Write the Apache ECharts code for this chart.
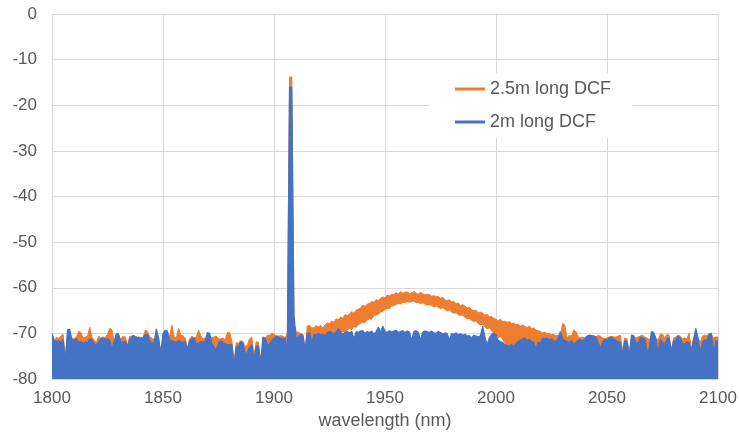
<!DOCTYPE html>
<html>
<head>
<meta charset="utf-8">
<script src="https://cdn.jsdelivr.net/npm/echarts@6/dist/echarts.min.js"></script>
<style>
  html, body { margin: 0; padding: 0; background: #fff; overflow: hidden; }
  #chart { width: 739px; height: 433px; }
</style>
</head>
<body>
<div id="chart"></div>
<script>
// x: wavelength in nm, one point per nm
var wavelength = [];
for (var w = 1800; w <= 2100; w++) wavelength.push(w);

// 2m long DCF (blue), dBm
var dcf2m = [
  -70.0, -71.5, -71.8, -71.6, -72.0, -71.4, -76.0, -69.2, -69.1, -71.5,
  -71.5, -71.2, -72.0, -71.8, -72.2, -71.9, -72.0, -71.2, -71.4, -72.3,
  -72.5, -71.8, -71.2, -71.0, -71.3, -71.2, -71.6, -73.3, -71.8, -70.0,
  -70.2, -71.8, -72.0, -71.6, -72.9, -71.4, -70.6, -70.5, -71.0, -70.8,
  -71.2, -70.9, -70.3, -70.2, -71.5, -72.3, -72.0, -69.0, -71.0, -74.5,
  -70.0, -69.3, -69.5, -71.5, -71.6, -71.8, -72.0, -71.5, -71.8, -72.0,
  -71.7, -73.5, -71.6, -71.2, -71.0, -72.3, -72.2, -71.8, -72.0, -71.6,
  -69.8, -70.0, -72.2, -73.0, -73.7, -72.1, -71.6, -71.9, -72.2, -72.5,
  -72.5, -72.4, -77.0, -73.0, -72.8, -71.8, -72.0, -74.5, -74.2, -73.0,
  -72.5, -75.5, -72.8, -72.8, -76.5, -70.8, -71.0, -72.5, -72.3, -71.6,
  -71.0, -70.6, -70.8, -71.0, -71.2, -71.0, -74.0, -16.0, -16.0, -66.0,
  -71.0, -70.8, -70.3, -70.4, -73.5, -70.0, -69.8, -72.0, -70.2, -70.4,
  -70.0, -70.4, -70.2, -70.6, -69.8, -69.6, -69.8, -70.2, -69.7, -69.0,
  -69.6, -70.2, -69.8, -69.6, -69.9, -69.5, -71.2, -69.6, -69.8, -69.5,
  -69.4, -70.0, -69.6, -69.8, -69.5, -70.2, -69.6, -68.6, -69.8, -68.4,
  -69.6, -69.8, -69.4, -69.7, -69.5, -69.3, -69.8, -69.6, -69.4, -69.8,
  -69.5, -69.7, -71.5, -69.6, -69.4, -69.8, -71.4, -69.7, -69.5, -69.6,
  -69.8, -69.5, -69.9, -70.0, -69.6, -69.8, -70.2, -69.9, -70.0, -71.5,
  -70.0, -70.2, -69.9, -70.3, -70.1, -70.4, -70.2, -70.6, -70.5, -71.0,
  -70.4, -70.6, -70.8, -70.5, -68.4, -70.8, -72.5, -71.0, -70.2, -70.0,
  -70.3, -71.5, -71.8, -72.0, -72.5, -72.6, -72.8, -72.4, -72.9, -72.2,
  -71.8, -71.5, -71.2, -71.0, -71.6, -71.3, -71.8, -72.0, -73.3, -71.9,
  -72.2, -71.0, -71.2, -71.0, -71.4, -71.2, -71.6, -71.8, -71.0, -69.6,
  -71.2, -71.5, -71.8, -72.0, -71.6, -72.3, -72.0, -71.5, -71.3, -71.6,
  -71.2, -70.6, -70.4, -70.5, -70.6, -70.8, -72.0, -73.2, -71.8, -71.4,
  -71.5, -71.0, -70.8, -71.2, -71.6, -71.8, -72.0, -74.5, -71.6, -71.8,
  -75.0, -70.4, -70.5, -72.0, -72.2, -70.8, -71.0, -71.2, -73.7, -73.5,
  -69.6, -69.8, -71.0, -74.5, -71.2, -72.0, -72.3, -71.2, -71.0, -74.0,
  -71.6, -71.4, -70.6, -71.0, -72.2, -72.4, -71.8, -72.0, -74.0, -71.5,
  -68.9, -71.0, -74.2, -72.0, -71.4, -71.6, -70.2, -70.0, -74.0, -71.8,
  -71.5
];

// 2.5m long DCF (orange), upper edge of the trace
var dcf25mTop = [
  -71.0, -72.0, -70.8, -71.2, -70.6, -70.2, -75.2, -70.0, -71.5, -71.0,
  -71.2, -70.8, -69.6, -69.8, -71.0, -70.8, -70.6, -68.7, -70.8, -71.5,
  -72.0, -70.6, -71.0, -70.8, -70.9, -70.2, -68.9, -69.2, -72.0, -71.0,
  -70.8, -71.2, -70.6, -70.8, -72.5, -70.6, -71.0, -70.8, -70.6, -71.2,
  -70.8, -71.0, -69.3, -69.5, -70.8, -71.0, -71.4, -70.5, -71.0, -74.0,
  -70.8, -70.5, -71.0, -70.6, -68.2, -70.8, -71.0, -68.9, -70.4, -70.5,
  -71.0, -73.3, -71.2, -70.6, -71.0, -70.8, -69.3, -70.5, -71.2, -71.0,
  -71.0, -70.8, -71.0, -70.8, -70.6, -71.2, -71.2, -71.0, -71.4, -69.8,
  -69.8, -71.6, -76.2, -72.0, -72.2, -71.6, -71.8, -73.0, -72.5, -71.2,
  -70.8, -75.0, -71.8, -72.0, -76.0, -71.5, -71.2, -70.4, -70.4, -70.0,
  -70.2, -70.5, -70.6, -70.5, -70.6, -71.0, -70.0, -13.8, -13.8, -68.0,
  -69.6, -69.8, -70.0, -70.2, -73.5, -68.4, -68.2, -68.9, -68.7, -68.3,
  -68.6, -68.2, -68.9, -68.1, -67.7, -67.9, -67.3, -67.6, -66.8, -67.0,
  -66.4, -66.7, -65.9, -66.1, -65.8, -65.2, -65.6, -64.9, -64.7, -64.4,
  -63.8, -64.1, -63.6, -63.4, -63.0, -63.2, -62.6, -62.8, -62.3, -62.0,
  -62.2, -61.6, -61.8, -61.4, -61.5, -61.1, -61.4, -60.8, -61.2, -61.0,
  -60.9, -61.3, -61.1, -60.8, -61.2, -61.4, -61.0, -61.3, -61.6, -61.4,
  -61.5, -61.9, -61.7, -62.0, -61.9, -62.3, -62.1, -62.6, -62.9, -62.6,
  -63.1, -63.0, -63.5, -63.3, -63.9, -63.7, -64.0, -64.4, -64.3, -64.8,
  -65.0, -64.9, -65.5, -65.3, -65.6, -66.0, -65.8, -66.4, -66.3, -66.7,
  -66.9, -67.2, -66.9, -67.5, -67.3, -67.6, -67.4, -67.9, -67.7, -68.1,
  -68.0, -68.4, -68.1, -68.5, -68.7, -68.4, -69.0, -68.8, -69.3, -69.4,
  -69.6, -69.9, -69.7, -70.1, -70.0, -70.3, -70.2, -70.5, -70.4, -70.6,
  -67.8, -68.2, -71.0, -70.4, -70.6, -69.3, -69.6, -70.8, -71.0, -70.8,
  -71.0, -70.6, -70.4, -70.6, -70.5, -70.8, -70.4, -70.6, -71.0, -71.2,
  -71.0, -70.8, -70.6, -70.8, -70.8, -70.6, -70.4, -73.8, -71.0, -71.2,
  -74.2, -71.2, -70.8, -71.0, -70.8, -70.6, -70.4, -70.8, -71.0, -71.4,
  -70.6, -70.8, -71.2, -71.4, -70.2, -70.2, -71.0, -70.2, -70.4, -73.8,
  -71.0, -70.8, -70.4, -70.6, -71.2, -71.0, -71.2, -70.0, -73.5, -70.8,
  -70.6, -71.0, -72.0, -70.6, -70.4, -70.5, -70.0, -70.2, -71.0, -70.8,
  -70.8
];

// lower edge of the orange trace where it stands clear of the noise (1926-2004 nm)
var dcf25mLowStart = 1926;
var dcf25mLow = [
  -70.5, -70.3, -70.6, -70.2,
  -70.1, -69.7, -69.9, -69.4, -69.0, -69.3, -68.6, -68.8, -68.2, -67.9,
  -67.6, -67.8, -67.1, -66.9, -67.0, -66.3, -66.1, -65.9, -65.4, -65.3,
  -64.9, -64.6, -64.7, -64.1, -64.0, -63.8, -63.5, -63.7, -63.3, -63.4,
  -63.1, -63.3, -63.2, -63.0, -63.4, -63.3, -63.6, -63.4, -63.7, -63.9,
  -63.8, -64.0, -64.3, -64.1, -64.4, -64.7, -64.5, -64.9, -65.2, -65.0,
  -65.4, -65.7, -65.6, -66.0, -66.2, -66.1, -66.6, -66.9, -66.8, -67.3,
  -67.5, -67.4, -68.0, -68.2, -68.1, -68.7, -69.1, -68.9, -69.6, -70.0,
  -70.3, -71.0, -70.8, -71.5, -72.2
];

var yMin = -80;

// rows for the orange band: [wavelength, top, bottom]
var bandData = [], blueData = [];
for (var i = 0; i < wavelength.length; i++) {
  var k = wavelength[i] - dcf25mLowStart;
  var low = (k >= 0 && k < dcf25mLow.length) ? dcf25mLow[k] : yMin;
  bandData.push([wavelength[i], dcf25mTop[i], low]);
  blueData.push([wavelength[i], dcf2m[i]]);
}

// whole orange trace as one filled outline, placed through the axes
function renderBand(params, api) {
  if (params.dataIndex !== 0) return;
  var top = [], bottom = [];
  for (var j = 0; j < bandData.length; j++) {
    top.push(api.coord([bandData[j][0], bandData[j][1]]));
    bottom.push(api.coord([bandData[j][0], bandData[j][2]]));
  }
  var outline = top.concat(bottom.reverse());
  return {
    type: 'group',
    children: [{
      type: 'polygon',
      shape: { points: outline },
      style: { fill: '#ED7D31' }
    }, {
      type: 'polyline',
      shape: { points: top },
      style: { stroke: '#ED7D31', lineWidth: 1, fill: null }
    }]
  };
}

var labelFont = 'Liberation Sans, Arial, Helvetica, sans-serif';
var chart = echarts.init(document.getElementById('chart'));
var option = {
  animation: false,
  backgroundColor: '#fff',
  grid: {
    left: 52,
    right: 21,
    top: 14,
    bottom: 54,
    outerBoundsMode: 'none'
  },
  legend: {
    data: ['2.5m long DCF', '2m long DCF'],
    orient: 'vertical',
    left: 429,
    top: 73,
    padding: [6, 21, 6, 26],
    backgroundColor: '#fff',
    icon: 'rect',
    itemWidth: 30,
    itemHeight: 3,
    itemGap: 13,
    textStyle: {
      color: '#595959',
      fontSize: 18,
      lineHeight: 20,
      fontFamily: labelFont
    }
  },
  xAxis: {
    type: 'value',
    min: 1800,
    max: 2100,
    interval: 50,
    name: 'wavelength (nm)',
    nameLocation: 'middle',
    nameGap: 33,
    nameTextStyle: {
      color: '#595959',
      fontSize: 18,
      fontFamily: labelFont
    },
    axisLine: {
      lineStyle: { color: '#d9d9d9' }
    },
    axisTick: { show: false },
    axisLabel: {
      margin: 11,
      color: '#595959',
      fontSize: 17,
      fontFamily: labelFont,
      formatter: function (v) { return String(v); }
    },
    splitLine: {
      show: true,
      lineStyle: { color: '#d9d9d9', width: 1 }
    }
  },
  yAxis: {
    type: 'value',
    min: -80,
    max: 0,
    interval: 10,
    axisLine: { show: false },
    axisTick: { show: false },
    axisLabel: {
      margin: 15,
      color: '#595959',
      fontSize: 17,
      fontFamily: labelFont
    },
    splitLine: {
      lineStyle: { color: '#d9d9d9', width: 1 }
    }
  },
  series: [{
    name: '2.5m long DCF',
    type: 'custom',
    renderItem: renderBand,
    itemStyle: { color: '#ED7D31' },
    encode: { x: 0, y: 1 },
    data: bandData,
    z: 2
  }, {
    name: '2m long DCF',
    type: 'line',
    symbol: 'none',
    itemStyle: { color: '#4472C4' },
    lineStyle: { color: '#4472C4', width: 1.2 },
    areaStyle: { color: '#4472C4', opacity: 1, origin: 'start' },
    data: blueData,
    z: 3
  }]
};
chart.setOption(option);
</script>
</body>
</html>
